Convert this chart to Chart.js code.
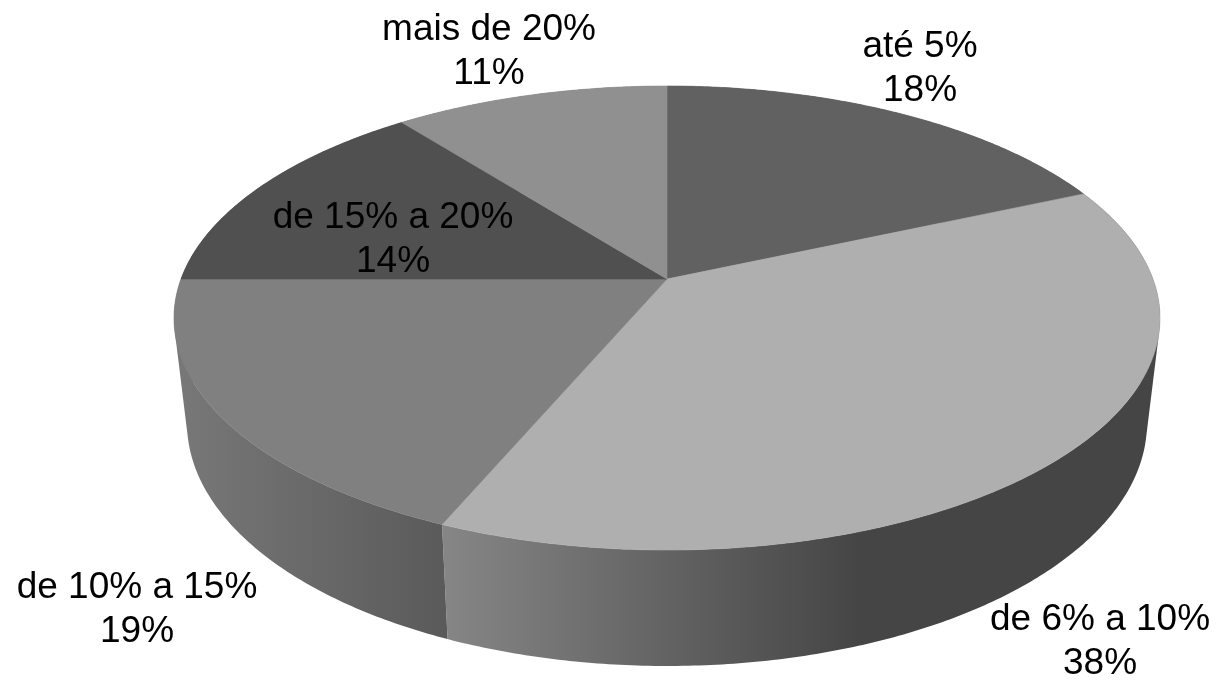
<!DOCTYPE html>
<html>
<head>
<meta charset="utf-8">
<style>html,body{margin:0;padding:0;background:#fff}canvas{display:block}</style>
<script src="https://cdn.jsdelivr.net/npm/chart.js@4"></script>
</head>
<body>
<canvas id="c" width="1218" height="680"></canvas>
<script>
const categories = ['até 5%', 'de 6% a 10%', 'de 10% a 15%', 'de 15% a 20%', 'mais de 20%'];
const shares = [18.4, 38, 18.6, 14.4, 10.6];
const topColors = ['#616161', '#afafaf', '#808080', '#505050', '#909090'];

// Perspective projection of the pie disc (top rim and bottom rim)
const TOP = {cx: 667, cy: 318, rx: 493, ry: 232, a: -0.168};
const BOT = {cx: 667, cy: 423, rx: 480, ry: 243, a: -0.17};
function project(g, angle) {
  const u = Math.cos(angle), v = Math.sin(angle);
  const d = 1 + g.a * v, k = Math.sqrt(1 - g.a * g.a);
  return {x: g.cx + g.rx * u * k / d, y: g.cy + g.ry * (v + g.a) / d};
}
const APEX = {x: TOP.cx, y: TOP.cy + TOP.ry * TOP.a};

// Top faces: the pie's own arc elements, drawn in perspective
Chart.ArcElement.prototype.draw = function (ctx) {
  const o = this.options, s = this.startAngle, e = this.endAngle;
  ctx.save();
  ctx.beginPath();
  ctx.moveTo(APEX.x, APEX.y);
  const n = Math.ceil((e - s) / 0.01);
  for (let i = 0; i <= n; i++) {
    const p = project(TOP, s + (e - s) * i / n);
    ctx.lineTo(p.x, p.y);
  }
  ctx.closePath();
  ctx.fillStyle = o.backgroundColor;
  ctx.strokeStyle = o.backgroundColor;
  ctx.lineWidth = 0.6;
  ctx.lineJoin = 'round';
  ctx.fill();
  ctx.stroke();
  ctx.restore();
};

// Side wall shading per slice: [left x, left grey, right x, right grey]
const wallShade = [
  [900, '#484848', 1160, '#484848'],
  [442, '#868686', 860, '#454545'],
  [175, '#787878', 447, '#5a5a5a'],
  [175, '#444444', 500, '#444444'],
  [300, '#6a6a6a', 660, '#6a6a6a']
];

const wallPlugin = {
  id: 'wall',
  beforeDatasetsDraw(chart) {
    const ctx = chart.ctx;
    chart.getDatasetMeta(0).data.forEach((arc, idx) => {
      const s = arc.startAngle, e = arc.endAngle, sh = wallShade[idx];
      const g = ctx.createLinearGradient(sh[0], 0, sh[2], 0);
      g.addColorStop(0, sh[1]);
      g.addColorStop(1, sh[3]);
      ctx.save();
      ctx.fillStyle = g;
      const n = Math.ceil((e - s) / 0.01);
      ctx.beginPath();
      for (let i = 0; i < n; i++) {
        const a0 = s + (e - s) * i / n, a1 = s + (e - s) * (i + 1) / n;
        let q = [project(TOP, a0), project(TOP, a1), project(BOT, a1), project(BOT, a0)];
        // keep every strip wound the same way so the union fills solidly
        let area = 0;
        for (let k = 0; k < 4; k++) {
          const p = q[k], r = q[(k + 1) % 4];
          area += p.x * r.y - r.x * p.y;
        }
        if (area < 0) q = q.reverse();
        ctx.moveTo(q[0].x, q[0].y);
        ctx.lineTo(q[1].x, q[1].y);
        ctx.lineTo(q[2].x, q[2].y);
        ctx.lineTo(q[3].x, q[3].y);
        ctx.closePath();
      }
      ctx.fill('nonzero');
      ctx.restore();
    });
  }
};

// Data labels: category on the first line, rounded share on the second
const labelAnchors = [[920, 57], [1100, 630], [137, 598], [393, 228], [489, 40]];
const labelPlugin = {
  id: 'labels3d',
  afterDatasetsDraw(chart) {
    const ctx = chart.ctx;
    ctx.save();
    ctx.font = '37px "Liberation Sans", Arial, sans-serif';
    ctx.fillStyle = '#000';
    ctx.textAlign = 'center';
    ctx.textBaseline = 'alphabetic';
    categories.forEach((name, i) => {
      const [x, y] = labelAnchors[i];
      ctx.fillText(name, x, y);
      ctx.fillText(Math.round(shares[i]) + '%', x, y + 43.5);
    });
    ctx.restore();
  }
};

new Chart(document.getElementById('c'), {
  type: 'pie',
  data: {
    labels: categories,
    datasets: [{data: shares, backgroundColor: topColors, borderWidth: 0}]
  },
  options: {
    responsive: false,
    animation: false,
    plugins: {legend: {display: false}, tooltip: {enabled: false}}
  },
  plugins: [wallPlugin, labelPlugin]
});
</script>
</body>
</html>
